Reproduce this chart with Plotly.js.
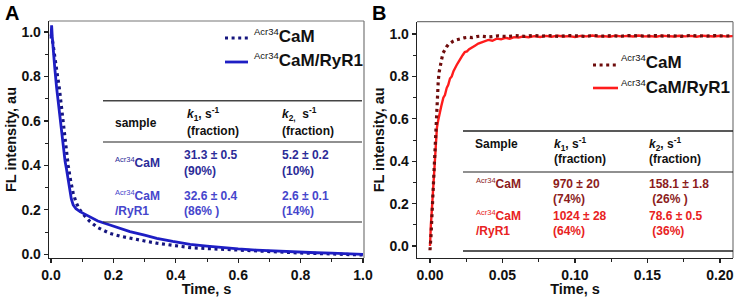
<!DOCTYPE html>
<html>
<head>
<meta charset="utf-8">
<script src="https://cdn.plot.ly/plotly-3.0.1.min.js"></script>
<style>html,body{margin:0;padding:0;background:#fff;}#chart{width:735px;height:297px;}</style>
</head>
<body>
<div id="chart"></div>
<script>
// ---------- Data ----------
// Panel A: decay, Acr34CaM (dotted)
const tA_CaM = [0, 0.004, 0.008, 0.011, 0.015, 0.020, 0.026, 0.032, 0.039, 0.047, 0.055, 0.063, 0.071, 0.080, 0.090, 0.100, 0.112, 0.125, 0.150, 0.189, 0.220, 0.253, 0.300, 0.339, 0.390, 0.446, 0.500, 0.552, 0.600, 0.659, 0.700, 0.750, 0.800, 0.850, 0.905, 0.950, 1.000];
const yA_CaM = [0.99, 0.97, 0.93, 0.905, 0.86, 0.81, 0.755, 0.68, 0.605, 0.50, 0.40, 0.33, 0.276, 0.235, 0.205, 0.185, 0.165, 0.147, 0.12, 0.094, 0.082, 0.072, 0.060, 0.050, 0.039, 0.030, 0.026, 0.022, 0.018, 0.015, 0.012, 0.009, 0.006, 0.004, 0.001, -0.001, -0.003];
// Panel A: decay, Acr34CaM/RyR1 (solid)
const tA_RyR = [0, 0.002, 0.004, 0.007, 0.012, 0.018, 0.024, 0.029, 0.034, 0.039, 0.045, 0.050, 0.055, 0.059, 0.065, 0.071, 0.080, 0.093, 0.110, 0.125, 0.150, 0.189, 0.220, 0.253, 0.300, 0.339, 0.390, 0.446, 0.500, 0.552, 0.600, 0.659, 0.700, 0.750, 0.800, 0.850, 0.900, 0.950, 1.000];
const yA_RyR = [0.97, 1.03, 0.98, 0.92, 0.84, 0.75, 0.67, 0.605, 0.54, 0.47, 0.42, 0.38, 0.33, 0.29, 0.25, 0.222, 0.205, 0.192, 0.18, 0.169, 0.15, 0.132, 0.117, 0.102, 0.086, 0.072, 0.058, 0.045, 0.037, 0.030, 0.024, 0.019, 0.016, 0.013, 0.010, 0.007, 0.005, 0.002, 0.0];

// Panel B: rise, Acr34CaM (dotted)
const tB_CaM = [0, 0.0004, 0.0008, 0.0012, 0.0017, 0.0023, 0.0028, 0.0034, 0.0040, 0.0045, 0.0051, 0.0057, 0.0063, 0.0070, 0.0080, 0.0090, 0.0103, 0.0115, 0.0126, 0.0140, 0.0160, 0.0180, 0.0207, 0.0235, 0.0264, 0.0290, 0.0320,
  0.035, 0.041, 0.047, 0.053, 0.059, 0.065, 0.071, 0.077, 0.083, 0.089, 0.095, 0.101, 0.107, 0.113, 0.119, 0.125, 0.131, 0.137, 0.143, 0.149, 0.155, 0.161, 0.167, 0.173, 0.179, 0.185, 0.191, 0.197, 0.203, 0.209];
const yB_CaM = [-0.02, 0.01, 0.06, 0.123, 0.20, 0.28, 0.36, 0.46, 0.56, 0.65, 0.72, 0.78, 0.82, 0.85, 0.88, 0.91, 0.93, 0.94, 0.95, 0.958, 0.966, 0.972, 0.978, 0.982, 0.985, 0.983, 0.988,
  0.99, 0.986, 0.991, 0.988, 0.992, 0.989, 0.993, 0.99, 0.992, 0.988, 0.993, 0.991, 0.989, 0.993, 0.99, 0.992, 0.989, 0.993, 0.991, 0.99, 0.993, 0.99, 0.992, 0.989, 0.993, 0.991, 0.99, 0.993, 0.99, 0.992];
// Panel B: rise, Acr34CaM/RyR1 (solid)
const tB_RyR = [0, 0.0002, 0.0006, 0.0010, 0.0015, 0.0020, 0.0025, 0.0030, 0.0035, 0.0040, 0.0048, 0.0057, 0.0067, 0.0078, 0.0092, 0.0103, 0.0115, 0.0126, 0.0138, 0.0150, 0.0162, 0.0172, 0.0185, 0.0198, 0.0210, 0.0225, 0.0240, 0.0255, 0.0270, 0.0290, 0.0310, 0.0333, 0.0356, 0.0380, 0.0402, 0.0430, 0.0460, 0.0490, 0.0520, 0.0550, 0.0580, 0.0610,
  0.064, 0.068, 0.072, 0.076, 0.080, 0.084, 0.088, 0.092, 0.096, 0.100, 0.104, 0.108, 0.112, 0.116, 0.120, 0.124, 0.128, 0.132, 0.136, 0.140, 0.144, 0.148, 0.152, 0.156, 0.160, 0.164, 0.168, 0.172, 0.176, 0.180, 0.184, 0.188, 0.192, 0.196, 0.200, 0.204, 0.209];
const yB_RyR = [0.0, 0.07, 0.10, 0.14, 0.20, 0.26, 0.33, 0.40, 0.46, 0.52, 0.56, 0.594, 0.63, 0.66, 0.70, 0.712, 0.745, 0.76, 0.79, 0.80, 0.825, 0.84, 0.855, 0.87, 0.885, 0.90, 0.915, 0.918, 0.928, 0.935, 0.945, 0.955, 0.96, 0.965, 0.972, 0.968, 0.978, 0.975, 0.982, 0.978, 0.985, 0.983,
  0.988, 0.985, 0.99, 0.986, 0.991, 0.987, 0.992, 0.988, 0.99, 0.986, 0.991, 0.989, 0.993, 0.988, 0.99, 0.987, 0.992, 0.989, 0.991, 0.988, 0.993, 0.989, 0.99, 0.987, 0.992, 0.99, 0.988, 0.992, 0.989, 0.991, 0.987, 0.992, 0.99, 0.988, 0.992, 0.989, 0.99];

// Legend / series labels
const seriesNames = ['<sup><span style="font-size:9.5px;font-weight:normal">Acr34</span></sup>CaM',
                     '<sup><span style="font-size:9.5px;font-weight:normal">Acr34</span></sup>CaM/RyR1'];
// Tables
const tabHeader = ['sample', 'Sample'];
const tabK1Head = '<i>k</i><sub>1</sub>, s<sup>-1</sup>';
const tabK2HeadA = '<i>k</i><sub>2,</sub>\u00a0 s<sup>-1</sup>';
const tabK2HeadB = '<i>k</i><sub>2</sub>, s<sup>-1</sup>';
const tabFracHead = '(fraction)';
const tabSampleA = ['<sup><span style="font-size:7.5px;font-weight:normal">Acr34</span></sup>CaM', '<sup><span style="font-size:7.5px;font-weight:normal">Acr34</span></sup>CaM', '/RyR1'];
const tabA_k1 = ['31.3 \u00b1 0.5', '32.6 \u00b1 0.4'];
const tabA_f1 = ['(90%)', '(86% )'];
const tabA_k2 = ['5.2 \u00b1 0.2', '2.6 \u00b1 0.1'];
const tabA_f2 = ['(10%)', '(14%)'];
const tabB_k1 = ['970 \u00b1 20', '1024 \u00b1 28'];
const tabB_f1 = ['(74%)', '(64%)'];
const tabB_k2 = ['158.1 \u00b1 1.8', '78.6 \u00b1 0.5'];
const tabB_f2 = ['\u00a0(26% )', '\u00a0(36%)'];

// ---------- Styling ----------
const W = 735, H = 297;
const FONT = 'Liberation Sans, Arial, Helvetica, sans-serif';
const px = x => x / W;
const py = y => 1 - y / H;
const cA1 = '#15157e', cA2 = '#1e1ec4';
const cB1 = '#6e0c0c', cB2 = '#ff1c1c';
const tA1 = '#2b2b98', tA2 = '#4646cc';
const tB1 = '#8c1c1c', tB2 = '#e82222';
const DOTS = '3px,3.6px';

const traces = [
  {x: tA_CaM, y: yA_CaM, xaxis: 'x', yaxis: 'y', mode: 'lines', line: {color: cA1, width: 3.2, dash: DOTS}, name: 'Acr34CaM'},
  {x: tA_RyR, y: yA_RyR, xaxis: 'x', yaxis: 'y', mode: 'lines', line: {color: cA2, width: 2.8}, name: 'Acr34CaM/RyR1'},
  {x: tB_RyR, y: yB_RyR, xaxis: 'x2', yaxis: 'y2', mode: 'lines', line: {color: cB2, width: 2.4}, name: 'Acr34CaM/RyR1'},
  {x: tB_CaM, y: yB_CaM, xaxis: 'x2', yaxis: 'y2', mode: 'lines', line: {color: cB1, width: 3.2, dash: DOTS}, name: 'Acr34CaM'}
];

function axisBase(extra) {
  return Object.assign({
    showgrid: false, zeroline: false, showline: true, linecolor: '#222', linewidth: 1.3,
    ticks: 'outside', ticklen: 4, tickwidth: 1.2, tickcolor: '#222',
    tickfont: {family: FONT, size: 14, color: '#111', weight: 'bold'},
    fixedrange: true
  }, extra);
}
const titleFont = {family: FONT, size: 14.5, color: '#111', weight: 'bold'};

function ann(x, base, text, color, size, extra) {
  return Object.assign({xref: 'paper', yref: 'paper', x: px(x), y: py(base - 0.35 * size),
    xanchor: 'left', yanchor: 'middle', showarrow: false, text: '<b>' + text + '</b>',
    font: {family: FONT, size: size, color: color}}, extra || {});
}

const annotations = [
  // panel labels
  {xref: 'paper', yref: 'paper', x: px(3), y: py(13), xanchor: 'left', yanchor: 'middle', showarrow: false, text: '<b>A</b>', font: {family: FONT, size: 20, color: '#000'}},
  {xref: 'paper', yref: 'paper', x: px(370), y: py(13), xanchor: 'left', yanchor: 'middle', showarrow: false, text: '<b>B</b>', font: {family: FONT, size: 20, color: '#000'}},
  // legend A
  ann(252, 42, seriesNames[0], '#111', 17),
  ann(252, 66, seriesNames[1], '#111', 17),
  // legend B
  ann(619, 68, seriesNames[0], '#111', 17),
  ann(619, 93, seriesNames[1], '#111', 17),
  // table A header
  ann(113, 127, tabHeader[0], '#111', 12),
  ann(185, 118, tabK1Head, '#111', 12),
  ann(185, 135, tabFracHead, '#111', 12),
  ann(280, 118, tabK2HeadA, '#111', 12),
  ann(280, 135, tabFracHead, '#111', 12),
  // table A rows
  ann(113, 167, tabSampleA[0], tA1, 12),
  ann(182, 159, tabA_k1[0], tA1, 12),
  ann(182, 175, tabA_f1[0], tA1, 12),
  ann(280, 159, tabA_k2[0], tA1, 12),
  ann(280, 175, tabA_f2[0], tA1, 12),
  ann(113, 200, tabSampleA[1], tA2, 12),
  ann(113, 215, tabSampleA[2], tA2, 12),
  ann(182, 200, tabA_k1[1], tA2, 12),
  ann(182, 215, tabA_f1[1], tA2, 12),
  ann(280, 200, tabA_k2[1], tA2, 12),
  ann(280, 215, tabA_f2[1], tA2, 12),
  // table B header
  ann(473, 148, tabHeader[1], '#111', 12),
  ann(552, 148, tabK1Head, '#111', 12),
  ann(552, 163, tabFracHead, '#111', 12),
  ann(647, 148, tabK2HeadB, '#111', 12),
  ann(647, 163, tabFracHead, '#111', 12),
  // table B rows
  ann(474, 188, tabSampleA[0], tB1, 12),
  ann(551, 188, tabB_k1[0], tB1, 12),
  ann(551, 203, tabB_f1[0], tB1, 12),
  ann(647, 188, tabB_k2[0], tB1, 12),
  ann(647, 203, tabB_f2[0], tB1, 12),
  ann(474, 220, tabSampleA[1], tB2, 12),
  ann(474, 235, tabSampleA[2], tB2, 12),
  ann(551, 220, tabB_k1[1], tB2, 12),
  ann(551, 235, tabB_f1[1], tB2, 12),
  ann(647, 220, tabB_k2[1], tB2, 12),
  ann(647, 235, tabB_f2[1], tB2, 12)
];

function hline(x0, x1, y, color, width, dash) {
  return {type: 'line', xref: 'paper', yref: 'paper', x0: px(x0), x1: px(x1), y0: py(y), y1: py(y),
    line: {color: color, width: width, dash: dash || 'solid'}};
}
const shapes = [
  // frame top/right (lighter)
  {type: 'line', xref: 'x domain', yref: 'y domain', x0: 0, x1: 1, y0: 1, y1: 1, line: {color: '#777', width: 1.2}},
  {type: 'line', xref: 'x domain', yref: 'y domain', x0: 1, x1: 1, y0: 0, y1: 1, line: {color: '#777', width: 1.2}},
  {type: 'line', xref: 'x2 domain', yref: 'y2 domain', x0: 0, x1: 1, y0: 1, y1: 1, line: {color: '#777', width: 1.2}},
  {type: 'line', xref: 'x2 domain', yref: 'y2 domain', x0: 1, x1: 1, y0: 0, y1: 1, line: {color: '#777', width: 1.2}},
  // legend samples
  hline(225, 248, 38, cA1, 3.2, DOTS),
  hline(225, 248, 62, cA2, 2.8),
  hline(593, 618, 65, cB1, 3.2, DOTS),
  hline(593, 618, 88, cB2, 2.6),
  // table rules A
  hline(103, 362, 100.7, '#444', 1.4),
  hline(103, 362, 142, '#222', 1.2),
  hline(103, 362, 222, '#222', 1.2),
  // table rules B
  hline(463, 733, 131, '#222', 1.4),
  hline(463, 733, 172, '#222', 1.2),
  hline(463, 733, 251, '#222', 1.4)
];

const layout = {
  width: W, height: H, autosize: false,
  margin: {l: 0, r: 0, t: 0, b: 0, pad: 0},
  paper_bgcolor: '#fff', plot_bgcolor: '#fff',
  showlegend: false,
  xaxis: axisBase({domain: [px(49), px(364)], range: [-0.0064, 1.0032], anchor: 'y',
    tickvals: [0, 0.2, 0.4, 0.6, 0.8, 1.0], ticktext: ['0.0', '0.2', '0.4', '0.6', '0.8', '1.0'],
    minor: {dtick: 0.1, ticks: 'outside', ticklen: 2.5, tickwidth: 1, tickcolor: '#222'},
    title: {text: 'Time, s', font: titleFont, standoff: 4}}),
  yaxis: axisBase({domain: [py(258), py(21)], range: [-0.0166, 1.0495], anchor: 'x',
    tickvals: [0, 0.2, 0.4, 0.6, 0.8, 1.0], ticktext: ['0.0', '0.2', '0.4', '0.6', '0.8', '1.0'],
    minor: {dtick: 0.1, ticks: 'outside', ticklen: 2.5, tickwidth: 1, tickcolor: '#222'},
    title: {text: 'FL intensity, au', font: titleFont, standoff: 1}}),
  xaxis2: axisBase({domain: [px(417), px(733)], range: [-0.00897, 0.209], anchor: 'y2',
    tickvals: [0, 0.05, 0.10, 0.15, 0.20], ticktext: ['0.00', '0.05', '0.10', '0.15', '0.20'],
    minor: {dtick: 0.025, ticks: 'outside', ticklen: 2.5, tickwidth: 1, tickcolor: '#222'},
    title: {text: 'Time, s', font: titleFont, standoff: 4}}),
  yaxis2: axisBase({domain: [py(258), py(21.7)], range: [-0.0566, 1.058], anchor: 'x2',
    tickvals: [0, 0.2, 0.4, 0.6, 0.8, 1.0], ticktext: ['0.0', '0.2', '0.4', '0.6', '0.8', '1.0'],
    minor: {dtick: 0.1, ticks: 'outside', ticklen: 2.5, tickwidth: 1, tickcolor: '#222'},
    title: {text: 'FL intensity, au', font: titleFont, standoff: 1}}),
  annotations: annotations,
  shapes: shapes
};

Plotly.newPlot('chart', traces, layout, {staticPlot: true, displayModeBar: false});
</script>
</body>
</html>
